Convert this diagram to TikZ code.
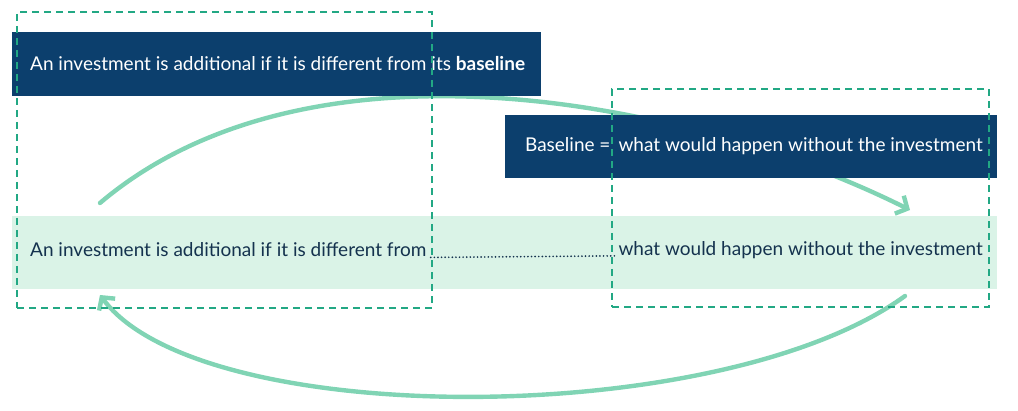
\documentclass[tikz,border=0pt]{standalone}
\usepackage{fontspec}
\setmainfont{Lato}
\usepackage{tikz}
\usetikzlibrary{positioning,arrows.meta}
\definecolor{navy}{HTML}{0C3F6D}
\definecolor{inknavy}{HTML}{14324E}
\definecolor{mint}{HTML}{DAF3E7}
\definecolor{dashteal}{HTML}{22A884}
\definecolor{arrowgreen}{HTML}{80D4B4}

\begin{document}
\begin{tikzpicture}[x=1pt, y=-1pt,
    darkbox/.style={fill=navy, draw=none, inner sep=0pt},
    lightbox/.style={fill=mint, draw=none, inner sep=0pt},
    frame/.style={draw=dashteal, line width=2pt, dash pattern=on 7pt off 5pt, inner sep=0pt},
    txt/.style={inner sep=0pt, font=\fontsize{19}{22}\selectfont},
    swoop/.style={draw=arrowgreen, line width=4.4pt, line cap=round, -{Straight Barb[length=9pt, width=20pt, line width=4.4pt]}}]

    \useasboundingbox (0,0) rectangle (1018,411);

    % green band behind everything
    \node[lightbox, minimum width=985pt, minimum height=73pt] (band) at (504.5,252.5) {};
    \node[txt, text=inknavy, anchor=west] (lhs) at (30,250) {An investment is additional if it is different from};
    \node[txt, text=inknavy, anchor=east] (rhs) at (983,250) {what would happen without the investment};
    \draw[inknavy, line width=1.8pt, dash pattern=on 0.1pt off 3.5pt, line cap=round]
        ([xshift=4pt, yshift=-0.5pt]lhs.base east) -- ([xshift=-3pt, yshift=-0.5pt]rhs.base west);

    % upper arrow, passes under the second box
    \coordinate (up0) at (100,203);
    \coordinate (up1) at (910,210);
    \draw[swoop] (up0) .. controls (310,25) and (690,100) .. (up1);

    \node[darkbox, minimum width=529pt, minimum height=64pt] (top) at (276.5,64) {};
    \node[txt, text=white, anchor=west] (toptxt) at (30,64) {An investment is additional if it is different from its \textbf{baseline}};

    \node[darkbox, minimum width=492pt, minimum height=63pt] (def) at (751,146.5) {};
    \node[txt, text=white, anchor=east] (deftxt) at (983,146) {Baseline = \,what would happen without the investment};

    % lower arrow
    \coordinate (lo0) at (905,296);
    \coordinate (lo1) at (100,295);
    \draw[swoop] (lo0) .. controls (720,430) and (200,430) .. (lo1);

    % dashed frames on top
    \node[frame, minimum width=415pt, minimum height=296pt] (left) at (224.5,160) {};
    \node[frame, minimum width=377pt, minimum height=218pt] (right) at (800.5,198) {};

\end{tikzpicture}
\end{document}
